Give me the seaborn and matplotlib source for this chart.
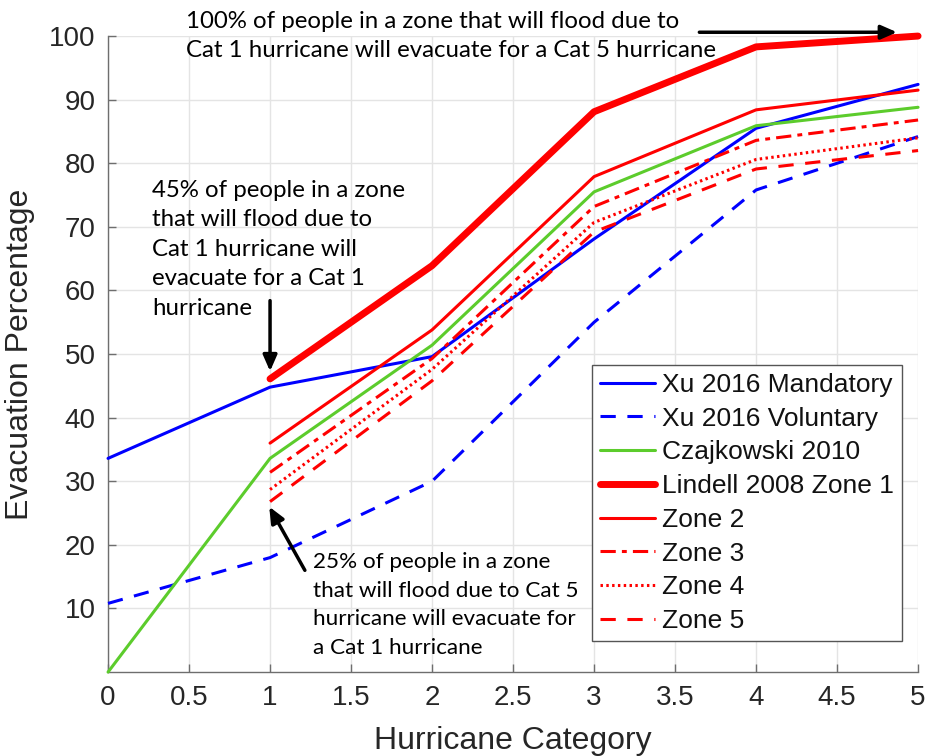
import matplotlib
matplotlib.use("Agg")
import matplotlib.pyplot as plt
import seaborn as sns
import pandas as pd

# Hurricane category axis values
categories = [0, 1, 2, 3, 4, 5]
lindell_categories = [1, 2, 3, 4, 5]

# Evacuation percentages by study
xu_mandatory = [33.6, 44.8, 49.6, 68.1, 85.5, 92.4]
xu_voluntary = [10.8, 18.0, 30.0, 55.0, 75.8, 84.2]
czajkowski = [0.0, 33.6, 51.4, 75.5, 85.9, 88.8]
zone1 = [46.1, 63.9, 88.1, 98.3, 100.0]
zone2 = [36.0, 53.8, 77.9, 88.4, 91.5]
zone3 = [31.4, 49.3, 73.2, 83.6, 86.8]
zone4 = [28.7, 47.6, 70.7, 80.6, 84.0]
zone5 = [26.8, 45.8, 69.2, 79.1, 82.0]

x_ticks = [0, 0.5, 1, 1.5, 2, 2.5, 3, 3.5, 4, 4.5, 5]
x_tick_labels = ["0", "0.5", "1", "1.5", "2", "2.5", "3", "3.5", "4", "4.5", "5"]
y_ticks = [10, 20, 30, 40, 50, 60, 70, 80, 90, 100]

sns.set_theme(style="whitegrid")
plt.rcParams["font.family"] = ["Liberation Sans", "DejaVu Sans"]

fig = plt.figure(figsize=(9.33, 7.56), dpi=100)
ax = fig.add_axes([0.1158, 0.111, 0.8682, 0.8413])

BLUE = "#0000ff"
GREEN = "#5ccc2c"
RED = "#ff0000"

series = [
    ("Xu 2016 Mandatory", categories, xu_mandatory, BLUE, 2.2, "-"),
    ("Xu 2016 Voluntary", categories, xu_voluntary, BLUE, 2.2, (0, (5, 3.8))),
    ("Czajkowski 2010", categories, czajkowski, GREEN, 2.2, "-"),
    ("Lindell 2008 Zone 1", lindell_categories, zone1, RED, 5.0, "-"),
    ("Zone 2", lindell_categories, zone2, RED, 2.2, "-"),
    ("Zone 3", lindell_categories, zone3, RED, 2.2, (0, (5, 2, 1.6, 2))),
    ("Zone 4", lindell_categories, zone4, RED, 2.2, (0, (0.8, 1.1))),
    ("Zone 5", lindell_categories, zone5, RED, 2.2, (0, (5, 3.8))),
]

for name, xs, ys, color, lw, ls in series:
    df = pd.DataFrame({"Hurricane Category": xs, "Evacuation Percentage": ys})
    sns.lineplot(data=df, x="Hurricane Category", y="Evacuation Percentage",
                 ax=ax, color=color, linewidth=lw, linestyle=ls,
                 label=name, clip_on=False, zorder=3)

ax.set_xlim(0, 5)
ax.set_ylim(0, 100)
ax.set_xticks(x_ticks)
ax.set_xticklabels(x_tick_labels)
ax.set_yticks(y_ticks)

ax.grid(True, color="#e4e4e4", linewidth=1.0)
ax.set_facecolor("white")
for side in ["top", "right"]:
    ax.spines[side].set_visible(False)
for side in ["left", "bottom"]:
    ax.spines[side].set_visible(True)
    ax.spines[side].set_color("#6e6e6e")
    ax.spines[side].set_linewidth(1.0)

ax.tick_params(axis="both", direction="in", length=6, width=1.0,
               color="#6e6e6e", labelsize=20, labelcolor="#262626", pad=9,
               left=True, bottom=True)

ax.set_xlabel("Hurricane Category", fontsize=23, color="#262626", labelpad=11)
ax.set_ylabel("Evacuation Percentage", fontsize=23, color="#262626", labelpad=10)

leg = ax.legend(loc="lower right", bbox_to_anchor=(0.980, 0.0487),
                fontsize=19, frameon=True, fancybox=False, framealpha=1,
                edgecolor="#555555", handlelength=2.1, handletextpad=0.25,
                labelspacing=0.37, borderpad=0.3, borderaxespad=0)
leg.get_frame().set_linewidth(1.0)
for t in leg.get_texts():
    t.set_color("#111111")

note_font = ["Lato", "DejaVu Sans"]
arrow_props = dict(arrowstyle="-|>,head_length=0.8,head_width=0.35",
                   color="black", lw=2.5, shrinkA=0, shrinkB=0)

ax.text(0.48, 100.0,
        "100% of people in a zone that will flood due to\n"
        "Cat 1 hurricane will evacuate for a Cat 5 hurricane",
        ha="left", va="center", fontsize=17.3, family=note_font,
        color="black", clip_on=False, zorder=5, linespacing=1.45)
ax.annotate("", xy=(4.87, 100.6), xytext=(3.65, 100.6),
            arrowprops=arrow_props, annotation_clip=False, zorder=5)

ax.text(0.27, 77.4,
        "45% of people in a zone\n"
        "that will flood due to\n"
        "Cat 1 hurricane will\n"
        "evacuate for a Cat 1\n"
        "hurricane",
        ha="left", va="top", fontsize=17.3, family=note_font,
        color="black", clip_on=False, zorder=5, linespacing=1.5)
ax.annotate("", xy=(1.0, 47.3), xytext=(1.0, 58.4),
            arrowprops=arrow_props, zorder=5)

ax.text(1.265, 18.9,
        "25% of people in a zone\n"
        "that will flood due to Cat 5\n"
        "hurricane will evacuate for\n"
        "a Cat 1 hurricane",
        ha="left", va="top", fontsize=16.2, family=note_font,
        color="black", clip_on=False, zorder=5, linespacing=1.55)
ax.annotate("", xy=(0.995, 26.0), xytext=(1.215, 16.0),
            arrowprops=arrow_props, zorder=5)

fig.savefig("out.png", dpi=100)
